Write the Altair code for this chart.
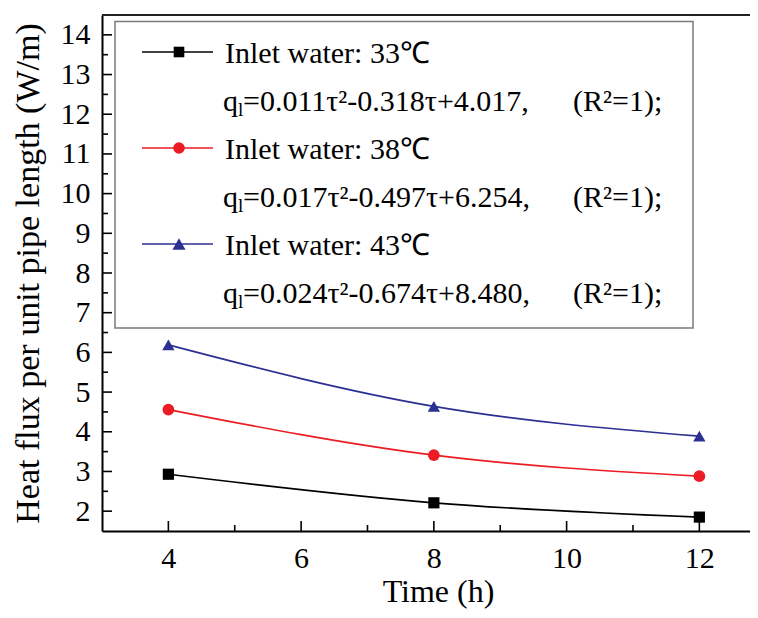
import altair as alt
import pandas as pd

# ---------------- data ----------------
time_h = [4, 8, 12]
q_33 = [2.93, 2.21, 1.85]
q_38 = [4.56, 3.41, 2.88]
q_43 = [6.19, 4.64, 3.89]
series = ["Inlet water: 33℃", "Inlet water: 38℃", "Inlet water: 43℃"]
formulas = ["=0.011τ²-0.318τ+4.017,", "=0.017τ²-0.497τ+6.254,", "=0.024τ²-0.674τ+8.480,"]
r2_text = "(R²=1);"
colors = ["#000000", "#ec1c24", "#2b3092"]
shapes = ["square", "circle", "triangle-up"]
sizes = [125, 150, 190]

x_major = [4, 6, 8, 10, 12]
x_minor = [5, 7, 9, 11]
y_major = [2, 3, 4, 5, 6, 7, 8, 9, 10, 11, 12, 13, 14]
y_minor = [2.5, 3.5, 4.5, 5.5, 6.5, 7.5, 8.5, 9.5, 10.5, 11.5, 12.5, 13.5]

X_DOMAIN = [3, 12.763]
Y_DOMAIN = [1.5, 14.5]
W, H = 648, 516
FONT = "Liberation Serif"

rows = []
for name, vals in zip(series, [q_33, q_38, q_43]):
    for t, q in zip(time_h, vals):
        rows.append({"time": t, "q": q, "series": name})
df = pd.DataFrame(rows)

xs = alt.Scale(domain=X_DOMAIN, nice=False, zero=False)
ys = alt.Scale(domain=Y_DOMAIN, nice=False, zero=False)
color_scale = alt.Scale(domain=series, range=colors)
shape_scale = alt.Scale(domain=series, range=shapes)
size_scale = alt.Scale(domain=series, range=sizes)

x_axis = alt.Axis(values=x_major, format="d", ticks=False, grid=False, domainColor="black",
                  domainWidth=2, labelFont=FONT, labelFontSize=30, labelFontWeight="normal",
                  labelPadding=12, labelColor="black", title="Time (h)", titleFont=FONT,
                  titleFontSize=32, titleFontWeight="normal", titleColor="black",
                  titleBaseline="alphabetic", titleX=336, titleY=70)
y_axis = alt.Axis(values=y_major, format="d", ticks=False, grid=False, domainColor="black",
                  domainWidth=2, labelFont=FONT, labelFontSize=30, labelFontWeight="normal",
                  labelPadding=12, labelColor="black",
                  title="Heat flux per unit pipe length (W/m)",
                  titleFont=FONT, titleFontSize=34, titleFontWeight="normal",
                  titleColor="black", titlePadding=15)

X = alt.X("time:Q", scale=xs, axis=x_axis)
Y = alt.Y("q:Q", scale=ys, axis=y_axis)

base = alt.Chart(df)
lines = base.mark_line(interpolate="monotone", strokeWidth=1.7).encode(
    x=X, y=Y,
    color=alt.Color("series:N", scale=color_scale, legend=None),
)
points = base.mark_point(filled=True, opacity=1).encode(
    x=X, y=Y,
    color=alt.Color("series:N", scale=color_scale, legend=None),
    shape=alt.Shape("series:N", scale=shape_scale, legend=None),
    size=alt.Size("series:N", scale=size_scale, legend=None),
)

# inward ticks
layers_ticks = []
for size, vals in [(10, x_major), (6, x_minor)]:
    layers_ticks.append(alt.Chart(pd.DataFrame({"time": vals})).mark_rule(
        color="black", strokeWidth=1.6).encode(
        x=X, y=alt.value(H), y2=alt.value(H - size)))
for size, vals in [(10, y_major), (6, y_minor)]:
    layers_ticks.append(alt.Chart(pd.DataFrame({"q": vals})).mark_rule(
        color="black", strokeWidth=1.6).encode(
        y=Y, x=alt.value(0), x2=alt.value(size)))

one = alt.Data(values=[{"k": 1}])
top_border = alt.Chart(one).mark_rule(color="#222", strokeWidth=2).encode(
    x=alt.value(0), x2=alt.value(W), y=alt.value(0))


def txt(s, x, y, size=30):
    return alt.Chart(one).mark_text(
        align="left", baseline="alphabetic", font=FONT, fontSize=size,
        fontWeight="normal", color="black",
    ).encode(x=alt.value(x), y=alt.value(y), text=alt.value(s))


# legend box
leg = [alt.Chart(one).mark_rect(fill="white", stroke="#7a7a7a", strokeWidth=1.5).encode(
    x=alt.value(13), x2=alt.value(591), y=alt.value(6.5), y2=alt.value(313))]
for i, (name, f, c, s, sz) in enumerate(zip(series, formulas, colors, shapes, sizes)):
    yc = 37 + 96 * i
    yb = 48 + 96 * i
    leg.append(alt.Chart(one).mark_rule(color=c, strokeWidth=1.7).encode(
        x=alt.value(40), x2=alt.value(111), y=alt.value(yc)))
    leg.append(alt.Chart(one).mark_point(filled=True, opacity=1).encode(
        x=alt.value(77), y=alt.value(yc), color=alt.value(c), shape=alt.value(s),
        size=alt.value(sz * 0.9)))
    leg.append(txt(name, 123, yb, 30))
    yb2 = yb + 48
    leg.append(txt("q", 121, yb2, 30))
    leg.append(txt("l", 136, yb2 + 5, 19))
    leg.append(txt(f, 141, yb2, 30))
    leg.append(txt(r2_text, 471, yb2, 30))

chart = alt.layer(lines, points, *layers_ticks, top_border, *leg).properties(
    width=W, height=H,
    padding={"left": 94, "top": 7, "right": 0, "bottom": 78},
    autosize=alt.AutoSizeParams(type="none"),
).configure(background="white", font=FONT).configure_view(stroke=None)

chart.save("out.html", embed_options={"renderer": "svg", "actions": False})
